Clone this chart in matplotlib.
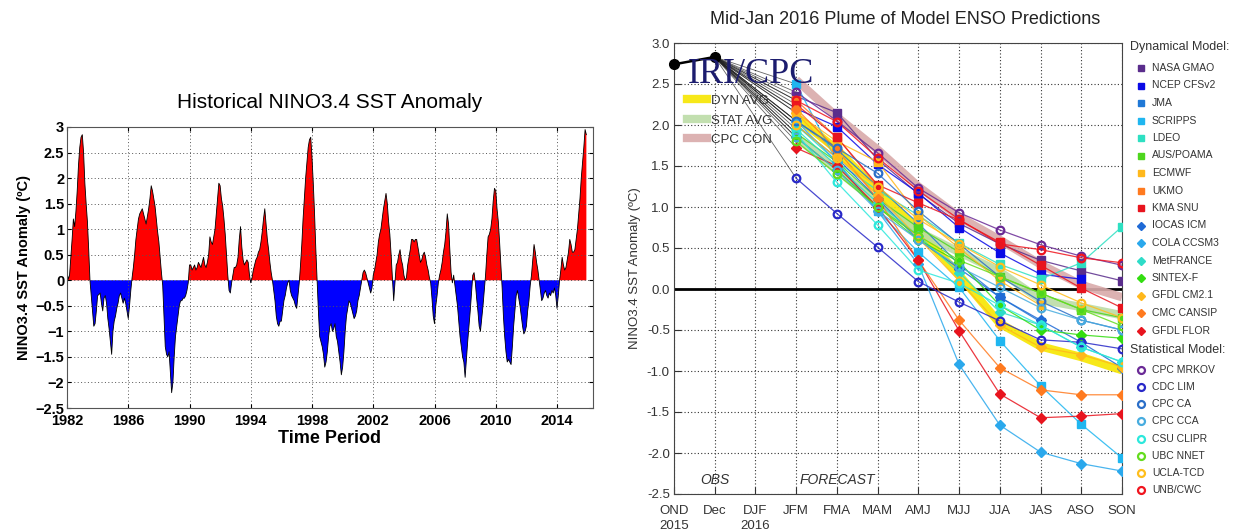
import numpy as np
import matplotlib
matplotlib.use("Agg")
import matplotlib.pyplot as plt
from matplotlib.lines import Line2D
from matplotlib.ticker import FuncFormatter

plt.rcParams["font.family"] = ["Liberation Sans", "DejaVu Sans"]

# ---- historical NINO3.4 monthly anomaly ----
anom_1982_1989 = [
    0.17, 0.02, 0.10, 0.45, 0.80, 1.20, 1.05, 1.35, 1.75, 2.25, 2.60, 2.80,
    2.85, 2.50, 1.90, 1.50, 1.15, 0.60, 0.00, -0.30, -0.60, -0.90, -0.85, -0.60,
    -0.30, -0.28, -0.25, -0.45, -0.60, -0.35, -0.30, -0.45, -0.75, -0.95, -1.20, -1.45,
    -1.00, -0.80, -0.70, -0.55, -0.45, -0.30, -0.25, -0.35, -0.45, -0.35, -0.45, -0.60,
    -0.75, -0.50, -0.20, 0.05, 0.25, 0.50, 0.80, 1.00, 1.20, 1.30, 1.35, 1.40,
    1.30, 1.20, 1.10, 1.25, 1.40, 1.60, 1.85, 1.75, 1.60, 1.45, 1.20, 0.95,
    0.75, 0.45, 0.15, -0.10, -0.70, -1.30, -1.45, -1.50, -1.40, -1.80, -2.20, -2.00,
    -1.50, -1.10, -0.90, -0.70, -0.50, -0.40, -0.40, -0.35, -0.35, -0.30, -0.20, -0.05,
]
anom_1990_1999 = [
    0.30, 0.30, 0.20, 0.25, 0.30, 0.20, 0.25, 0.35, 0.30, 0.25, 0.35, 0.45,
    0.30, 0.25, 0.35, 0.50, 0.85, 0.75, 0.70, 0.85, 1.00, 1.30, 1.60, 1.90,
    1.85, 1.60, 1.45, 1.20, 0.90, 0.50, 0.10, -0.20, -0.25, -0.05, 0.10, 0.25,
    0.25, 0.30, 0.45, 0.80, 1.05, 0.65, 0.40, 0.30, 0.35, 0.40, 0.35, 0.10,
    -0.05, 0.05, 0.20, 0.30, 0.40, 0.45, 0.55, 0.60, 0.75, 0.95, 1.20, 1.40,
    1.10, 0.80, 0.60, 0.35, 0.15, 0.00, -0.20, -0.40, -0.70, -0.85, -0.90, -0.80,
    -0.80, -0.60, -0.40, -0.30, -0.15, -0.05, 0.00, -0.20, -0.30, -0.35, -0.40, -0.50,
    -0.55, -0.30, -0.05, 0.30, 0.70, 1.20, 1.60, 2.00, 2.30, 2.60, 2.75, 2.80,
    2.40, 1.90, 1.30, 0.60, 0.00, -0.60, -1.10, -1.20, -1.30, -1.45, -1.70, -1.60,
    -1.40, -1.10, -0.90, -0.85, -1.00, -0.95, -0.85, -1.10, -1.20, -1.40, -1.60, -1.85,
]
anom_2000_2009 = [
    -1.70, -1.40, -1.00, -0.70, -0.55, -0.40, -0.45, -0.55, -0.65, -0.75, -0.70, -0.60,
    -0.40, -0.30, -0.15, 0.00, 0.15, 0.20, 0.15, 0.05, -0.05, -0.15, -0.25, -0.15,
    0.10, 0.20, 0.35, 0.50, 0.75, 0.90, 1.00, 1.20, 1.40, 1.55, 1.70, 1.50,
    1.15, 0.90, 0.50, 0.05, -0.40, -0.05, 0.30, 0.35, 0.50, 0.60, 0.40, 0.30,
    0.10, 0.00, 0.05, 0.30, 0.45, 0.60, 0.80, 0.80, 0.75, 0.80, 0.80, 0.65,
    0.50, 0.35, 0.40, 0.50, 0.55, 0.45, 0.30, 0.20, 0.05, -0.05, -0.35, -0.70,
    -0.85, -0.50, -0.30, -0.05, 0.10, 0.20, 0.35, 0.55, 0.70, 0.95, 1.30, 1.10,
    0.60, 0.15, -0.05, 0.10, -0.10, -0.30, -0.50, -0.80, -1.10, -1.30, -1.50, -1.60,
    -1.90, -1.55, -1.20, -0.90, -0.60, -0.25, 0.10, 0.15, -0.05, -0.35, -0.60, -0.90,
    -1.00, -0.75, -0.50, -0.20, 0.10, 0.50, 0.85, 0.90, 1.00, 1.20, 1.55, 1.80,
]
anom_2010_2015 = [
    1.75, 1.40, 1.15, 0.75, 0.30, -0.15, -0.70, -1.10, -1.40, -1.60, -1.55, -1.60,
    -1.65, -1.30, -0.90, -0.60, -0.30, -0.20, -0.35, -0.50, -0.70, -0.90, -1.05, -1.00,
    -0.90, -0.60, -0.40, -0.10, 0.10, 0.40, 0.70, 0.55, 0.35, 0.20, 0.00, -0.20,
    -0.40, -0.35, -0.25, -0.20, -0.30, -0.35, -0.25, -0.30, -0.20, -0.25, -0.15, -0.30,
    -0.55, -0.30, 0.00, 0.20, 0.45, 0.30, 0.20, 0.25, 0.40, 0.55, 0.80, 0.70,
    0.55, 0.55, 0.60, 0.80, 1.00, 1.30, 1.60, 2.00, 2.30, 2.60, 2.95, 2.85,
]
hist_start = 1982
hist_years = [1982, 1986, 1990, 1994, 1998, 2002, 2006, 2010, 2014]

# ---- plume (right panel) ----
seasons = ["OND", "Dec", "DJF", "JFM", "FMA", "MAM", "AMJ", "MJJ", "JJA", "JAS", "ASO", "SON"]
season_years = {"OND": "2015", "DJF": "2016"}
obs_values = [2.74, 2.83]          # OND, Dec
nan = np.nan

# forecasts JFM..SON
dyn_names = ["NASA GMAO", "NCEP CFSv2", "JMA", "SCRIPPS", "LDEO", "AUS/POAMA",
             "ECMWF", "UKMO", "KMA SNU"]
dyn_fc = [
    [2.35, 2.15, 1.58, 1.16, 0.80, 0.55, 0.35, 0.22, 0.10],
    [2.20, 1.98, 1.52, 1.17, 0.75, 0.44, 0.18, 0.12, nan],
    [2.05, 1.70, 1.25, 0.80, 0.30, -0.10, -0.40, nan, nan],
    [2.50, 1.55, 0.95, 0.45, 0.02, -0.63, -1.18, -1.65, -2.06],
    [2.00, 1.55, 1.20, 0.90, 0.56, 0.30, 0.12, 0.32, 0.76],
    [1.90, 1.55, 1.10, 0.75, 0.45, 0.15, -0.05, -0.25, -0.35],
    [2.15, 1.80, 1.55, 0.90, 0.50, 0.10, -0.20, nan, nan],
    [2.30, 1.85, 1.25, nan, nan, nan, nan, nan, nan],
    [2.25, 1.85, 1.27, 1.05, 0.84, 0.57, 0.29, 0.01, -0.23],
]
dia_names = ["IOCAS ICM", "COLA CCSM3", "MetFRANCE", "SINTEX-F", "GFDL CM2.1",
             "CMC CANSIP", "GFDL FLOR"]
dia_fc = [
    [2.00, 1.60, 1.10, 0.60, 0.25, -0.10, -0.38, -0.65, -0.96],
    [2.05, 1.55, 0.95, 0.30, -0.92, -1.66, -1.99, -2.13, -2.22],
    [1.95, 1.50, 1.05, 0.65, 0.20, -0.28, -0.44, -0.71, -0.89],
    [1.85, 1.45, 1.00, 0.60, 0.33, -0.20, -0.50, -0.56, -0.60],
    [2.15, 1.62, 1.15, 0.62, 0.10, -0.44, -0.71, -0.80, -0.95],
    [2.20, 1.70, 1.10, 0.35, -0.38, -0.96, -1.23, -1.29, -1.29],
    [1.72, 1.50, 1.00, 0.35, -0.51, -1.28, -1.57, -1.55, -1.52],
]
stat_names = ["CPC MRKOV", "CDC LIM", "CPC CA", "CPC CCA", "CSU CLIPR", "UBC NNET",
              "UCLA-TCD", "UNB/CWC"]
stat_fc = [
    [2.40, 2.05, 1.66, 1.23, 0.93, 0.72, 0.54, 0.40, 0.29],
    [1.35, 0.92, 0.51, 0.09, -0.16, -0.39, -0.62, -0.65, -0.73],
    [2.05, 1.72, 1.41, 0.95, 0.55, 0.15, -0.15, -0.38, -0.50],
    [1.85, 1.45, 0.95, 0.60, 0.27, 0.02, -0.23, -0.38, -0.50],
    [1.90, 1.30, 0.78, 0.23, 0.07, -0.20, -0.44, -0.71, -0.89],
    [1.80, 1.40, 1.00, 0.65, 0.35, 0.15, -0.05, -0.25, -0.45],
    [2.00, 1.60, 1.25, 0.85, 0.55, 0.27, 0.05, -0.17, -0.35],
    [2.30, 2.04, 1.60, 1.20, 0.85, 0.55, 0.48, 0.38, 0.32],
]
avg_names = ["DYN AVG", "STAT AVG", "CPC CON"]
avg_fc = [
    [2.10, 1.70, 1.20, 0.72, 0.17, -0.42, -0.70, -0.83, -0.99],
    [1.85, 1.45, 1.05, 0.70, 0.45, 0.21, -0.13, -0.22, -0.32],
    [2.55, 2.10, 1.70, 1.25, 0.88, 0.60, 0.30, 0.05, -0.10],
]

# styles
dyn_colors = ["#5a2d8c", "#0a0ae6", "#1f78d6", "#1fb6f0", "#2ee0c2", "#4ed61e",
              "#ffb81c", "#ff7a1f", "#e8141e"]
dia_colors = ["#1f6ad6", "#2aa8ec", "#2edcc8", "#33dd11", "#ffb81c", "#ff7a1f", "#e8141e"]
stat_colors = ["#6a2a96", "#2828c8", "#2a6ec8", "#47acdf", "#2ce8dc", "#64dc1e",
               "#ffbe1c", "#f0141e"]
avg_colors = ["#f7e600", "#bcdca6", "#d9aaaa"]

W, H = 1235, 531
fig = plt.figure(figsize=(W / 100, H / 100), dpi=100)

# ================= left: historical =================
anom = np.array(anom_1982_1989 + anom_1990_1999 + anom_2000_2009 + anom_2010_2015)
t = hist_start + np.arange(len(anom)) / 12.0

ax1 = fig.add_axes([67 / W, 1 - 408 / H, 526 / W, 281 / H])
ax1.fill_between(t, anom, 0, where=anom >= 0, interpolate=True, color="#ff0000", lw=0)
ax1.fill_between(t, anom, 0, where=anom <= 0, interpolate=True, color="#0000ff", lw=0)
ax1.plot(t, anom, color="black", lw=0.6)
ax1.set_xlim(1982, 2016.35)
ax1.set_ylim(-2.5, 3)
ax1.set_xticks(hist_years)
ax1.set_yticks(np.arange(-2.5, 3.01, 0.5))
ax1.yaxis.set_major_formatter(FuncFormatter(lambda v, p: ("%g" % v).replace("-", "\u2212")))
ax1.grid(True, linestyle=(0, (1, 2.5)), color="#555555", lw=0.7)
ax1.tick_params(direction="in", top=True, right=True, length=3)
ax1.tick_params(axis="x", pad=4)
ax1.tick_params(axis="y", pad=2)
for lab in ax1.get_xticklabels() + ax1.get_yticklabels():
    lab.set_fontweight("bold")
    lab.set_fontsize(10.5)
for s in ax1.spines.values():
    s.set_color("#555555")
ax1.set_xlabel("Time Period", fontsize=13, fontweight="bold", labelpad=2)
ax1.set_ylabel("NINO3.4 SST Anomaly (\u00baC)", fontsize=10.5, fontweight="bold", labelpad=3)
ax1.set_title("Historical NINO3.4 SST Anomaly", fontsize=15, pad=14)

# ================= right: plume =================
ax2 = fig.add_axes([674 / W, 1 - 494 / H, 448 / W, 451 / H])
x = np.arange(len(seasons))
xf = x[3:]
ax2.set_xlim(0, len(seasons) - 1)
ax2.set_ylim(-2.5, 3.0)
ax2.set_xticks(x)
ax2.set_xticklabels([s + ("\n" + season_years[s] if s in season_years else "") for s in seasons],
                    fontsize=9.5, color="#333333", linespacing=1.3)
ax2.set_yticks(np.arange(-2.5, 3.01, 0.5))
ax2.yaxis.set_major_formatter(FuncFormatter(lambda v, p: "%.1f" % v))
for lab in ax2.get_yticklabels():
    lab.set_fontsize(9.5)
    lab.set_color("#333333")
ax2.grid(True, linestyle=(0, (1, 2)), color="#333333", lw=0.8)
ax2.tick_params(direction="in", length=5, color="#333333")
ax2.tick_params(axis="x", pad=8)
ax2.tick_params(axis="y", pad=3)
for s in ax2.spines.values():
    s.set_color("#444444")
ax2.axhline(0, color="black", lw=2, zorder=2)
ax2.set_ylabel("NINO3.4 SST Anomaly (\u00baC)", fontsize=9.5, color="#333333", labelpad=4)

# averages (thick translucent bands)
for vals, col in zip(avg_fc, avg_colors):
    ax2.plot(xf, vals, color=col, lw=6, solid_capstyle="butt", zorder=3, alpha=0.9)

# black connectors from last obs to first forecast month
all_fc = dyn_fc + dia_fc + stat_fc
for vals in all_fc:
    ax2.plot([x[1], xf[0]], [obs_values[-1], vals[0]], color="#222222", lw=0.6,
             alpha=0.7, zorder=4)

def draw_models(fc, colors, marker, filled):
    for vals, col in zip(fc, colors):
        v = np.array(vals, dtype=float)
        ax2.plot(xf, v, color=col, lw=0.9, alpha=0.85, zorder=5)
        if filled:
            ax2.plot(xf, v, ls="none", marker=marker, ms=5.5, color=col,
                     mec=col, zorder=6)
        else:
            ax2.plot(xf, v, ls="none", marker=marker, ms=5.5, mfc="none",
                     mec=col, mew=1.6, zorder=6)

draw_models(dyn_fc, dyn_colors, "s", True)
draw_models(dia_fc, dia_colors, "D", True)
draw_models(stat_fc, stat_colors, "o", False)

# observations
ax2.plot(x[:2], obs_values, color="black", lw=1.8, marker="o", ms=7,
         zorder=7, clip_on=False)

ax2.text(1.0, -2.38, "OBS", style="italic", fontsize=10, color="#333333", ha="center")
ax2.text(4.0, -2.38, "FORECAST", style="italic", fontsize=10, color="#333333", ha="center")

fig.text(688 / W, 1 - 83 / H, "IRI/CPC", family=["Liberation Serif", "DejaVu Serif"],
         fontsize=26, color="#1c1c6e", va="baseline")

avg_handles = [Line2D([], [], color=c, lw=6, alpha=0.9) for c in avg_colors]
leg = ax2.legend(avg_handles, avg_names, loc="upper left", bbox_to_anchor=(0.03, 0.885),
                 frameon=False, fontsize=9.5, handlelength=1.5, handletextpad=0.25,
                 labelspacing=0.55, borderpad=0, borderaxespad=0)
for txt in leg.get_texts():
    txt.set_color("#333333")

fig.text(905 / W, 1 - 20 / H, "Mid-Jan 2016 Plume of Model ENSO Predictions",
         fontsize=13, ha="center", va="center", color="#222222")

# ---- side legend ----
lax = fig.add_axes([0, 0, 1, 1], facecolor="none")
lax.set_xlim(0, W)
lax.set_ylim(H, 0)
lax.axis("off")
lax.text(1130, 47, "Dynamical Model:", fontsize=9, color="#333333", va="center")
row = 0
for names, colors, marker in ((dyn_names, dyn_colors, "s"), (dia_names, dia_colors, "D")):
    for name, col in zip(names, colors):
        y = 68 + 17.5 * row
        lax.plot(1141, y, marker=marker, ms=5 if marker == "s" else 4.5, color=col, ls="none")
        lax.text(1152, y, name, fontsize=7.5, color="#333333", va="center")
        row += 1
lax.text(1130, 350, "Statistical Model:", fontsize=9, color="#333333", va="center")
for i, (name, col) in enumerate(zip(stat_names, stat_colors)):
    y = 370 + 17.15 * i
    lax.plot(1141, y, marker="o", ms=5, mfc="none", mec=col, mew=1.6, ls="none")
    lax.text(1152, y, name, fontsize=7.5, color="#333333", va="center")

fig.savefig("out.png", dpi=100, facecolor="white")
